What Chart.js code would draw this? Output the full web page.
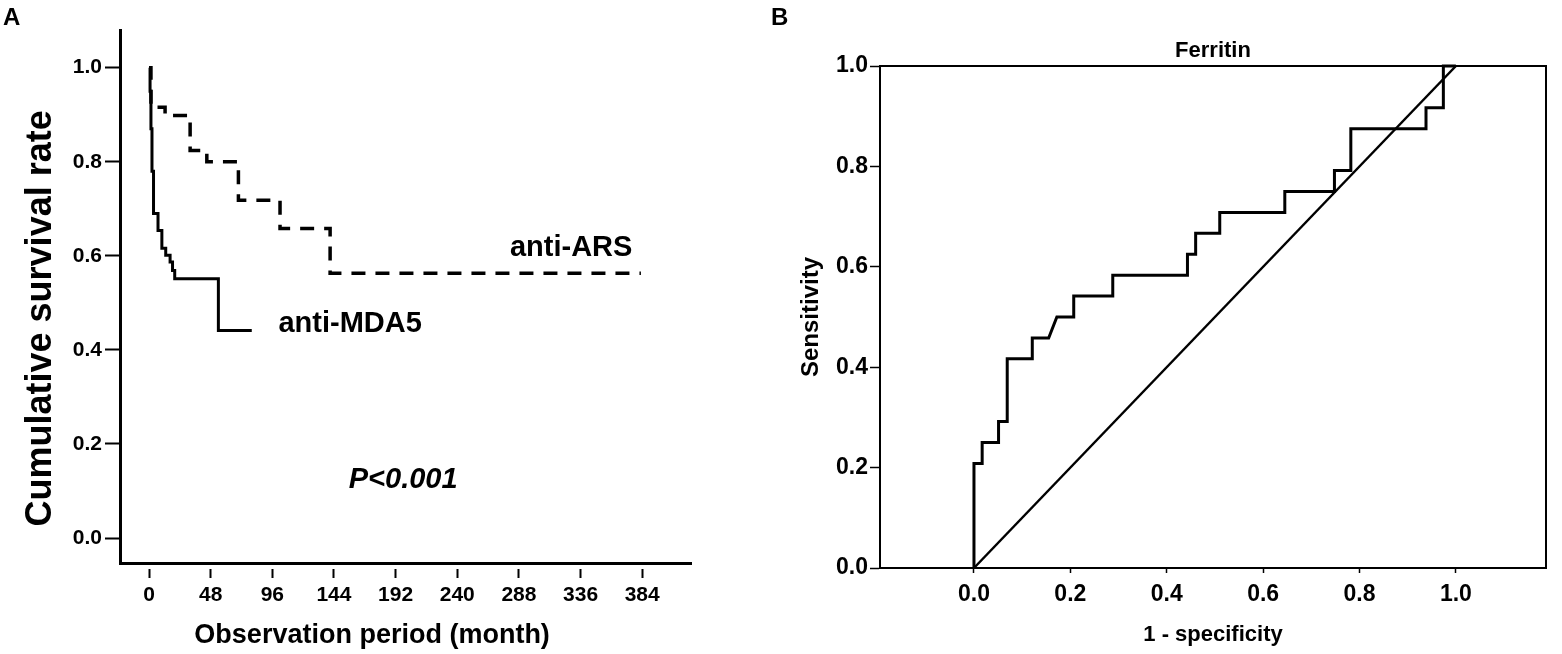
<!DOCTYPE html>
<html>
<head>
<meta charset="utf-8">
<script src="https://cdn.jsdelivr.net/npm/chart.js@4.4.1/dist/chart.umd.min.js"></script>
<style>
  body { margin: 0; background: #fff; width: 1562px; height: 654px; position: relative; overflow: hidden; font-family: 'Liberation Sans', Arial, sans-serif; }
  canvas { position: absolute; top: 0; }
  #chartA { left: 0; }
  #chartB { left: 760px; }
  .panel { position: absolute; font-weight: bold; font-size: 24px; color: #000; }
</style>
</head>
<body>
<canvas id="chartA" width="760" height="654"></canvas>
<canvas id="chartB" width="802" height="654"></canvas>
<div class="panel" style="left:3px;top:3px">A</div>
<div class="panel" style="left:771px;top:3px">B</div>
<script>
// Panel A: Kaplan-Meier curves
const arsMonths = [0, 1.5, 12.5, 32, 45, 69.6, 102, 141, 383];
const arsSurvival = [1.0, 0.916, 0.898, 0.824, 0.80, 0.718, 0.658, 0.563, 0.563];
const mda5Months = [0, 0.8, 1.5, 2.3, 3.5, 7, 10, 13, 16.4, 18.3, 20, 54, 80];
const mda5Survival = [1.0, 0.95, 0.87, 0.78, 0.69, 0.654, 0.616, 0.601, 0.587, 0.569, 0.551, 0.441, 0.441];
const monthTicks = [0, 48, 96, 144, 192, 240, 288, 336, 384];
const survivalTicks = [0, 0.2, 0.4, 0.6, 0.8, 1.0];

// Panel B: ROC curve for ferritin
const rocFpr = [0, 0, 0.017, 0.017, 0.051, 0.051, 0.069, 0.069, 0.121, 0.121, 0.155, 0.172, 0.207, 0.207, 0.288, 0.288,
  0.443, 0.443, 0.46, 0.46, 0.51, 0.51, 0.645, 0.645, 0.748, 0.748, 0.782, 0.782, 0.938, 0.938, 0.974, 0.974, 1.0];
const rocTpr = [0, 0.208, 0.208, 0.25, 0.25, 0.292, 0.292, 0.417, 0.417, 0.458, 0.458, 0.5, 0.5, 0.542, 0.542, 0.583,
  0.583, 0.625, 0.625, 0.667, 0.667, 0.708, 0.708, 0.75, 0.75, 0.792, 0.792, 0.875, 0.875, 0.917, 0.917, 1.0, 1.0];
const refFpr = [0, 1];
const refTpr = [0, 1];
const rateTicks = [0, 0.2, 0.4, 0.6, 0.8, 1.0];

Chart.defaults.font.family = "'Liberation Sans', Arial, sans-serif";
Chart.defaults.color = "#000";

const toPoints = (xs, ys) => xs.map((x, i) => ({ x: x, y: ys[i] }));
const fixedTicks = (values) => (scale) => {
    scale.ticks = values.map((v) => ({ value: v }));
};

// draws free text at data coordinates of the x / y scales
const textPlugin = {
    id: "texts",
    afterDraw(chart, args, opts) {
        const { ctx, scales } = chart;
        (opts.items || []).forEach((item) => {
            ctx.save();
            ctx.translate(scales.x.getPixelForValue(item.x), scales.y.getPixelForValue(item.y));
            if (item.rotate) {
                ctx.rotate(item.rotate);
            }
            ctx.font = item.font;
            ctx.fillStyle = "#000";
            ctx.textAlign = "center";
            ctx.textBaseline = "middle";
            ctx.fillText(item.text, 0, 0);
            ctx.restore();
        });
    }
};

new Chart(document.getElementById("chartA"), {
    type: "line",
    data: {
        datasets: [
            {
                label: "anti-ARS",
                data: toPoints(arsMonths, arsSurvival),
                stepped: "before",
                borderColor: "#000",
                borderWidth: 3.5,
                borderDash: [14, 10],
                pointRadius: 0,
                fill: false
            },
            {
                label: "anti-MDA5",
                data: toPoints(mda5Months, mda5Survival),
                stepped: "before",
                borderColor: "#000",
                borderWidth: 3,
                pointRadius: 0,
                fill: false
            }
        ]
    },
    options: {
        responsive: false,
        animation: false,
        layout: { padding: { top: 30, right: 69, left: 0, bottom: 0 } },
        plugins: {
            legend: { display: false },
            tooltip: { enabled: false },
            texts: {
                items: [
                    { text: "anti-ARS", x: 328.7, y: 0.616, font: "bold 29px 'Liberation Sans', Arial" },
                    { text: "anti-MDA5", x: 156.6, y: 0.455, font: "bold 29px 'Liberation Sans', Arial" },
                    { text: "P<0.001", x: 197.9, y: 0.123, font: "italic bold 29px 'Liberation Sans', Arial" },
                    { text: "Observation period (month)", x: 173.7, y: -0.208, font: "bold 27px 'Liberation Sans', Arial" },
                    { text: "Cumulative survival rate", x: -84.1, y: 0.467, rotate: -Math.PI / 2, font: "bold 36px 'Liberation Sans', Arial" }
                ]
            }
        },
        scales: {
            x: {
                type: "linear",
                min: -22.6,
                max: 422,
                afterBuildTicks: fixedTicks(monthTicks),
                afterFit: (scale) => { scale.height = 91; },
                ticks: {
                    padding: 5,
                    font: { size: 21, weight: "bold" },
                    maxRotation: 0,
                    callback: (value) => String(value)
                },
                grid: {
                    drawOnChartArea: false,
                    tickLength: 15,
                    tickWidth: 2,
                    tickColor: "#000",
                    tickBorderDash: [0, 4, 11, 40]
                },
                border: { color: "#000", width: 3 }
            },
            y: {
                type: "linear",
                min: -0.053,
                max: 1.08,
                afterBuildTicks: fixedTicks(survivalTicks),
                afterFit: (scale) => { scale.width = 120; },
                ticks: {
                    padding: 3,
                    font: { size: 21, weight: "bold" },
                    callback: (value) => value.toFixed(1)
                },
                grid: {
                    drawOnChartArea: false,
                    tickLength: 15,
                    tickWidth: 2,
                    tickColor: "#000"
                },
                border: { color: "#000", width: 3 }
            }
        }
    },
    plugins: [textPlugin]
});

new Chart(document.getElementById("chartB"), {
    type: "line",
    data: {
        datasets: [
            {
                label: "Ferritin",
                data: toPoints(rocFpr, rocTpr),
                borderColor: "#000",
                borderWidth: 3,
                pointRadius: 0,
                fill: false,
                clip: false
            },
            {
                label: "Reference line",
                data: toPoints(refFpr, refTpr),
                borderColor: "#000",
                borderWidth: 2.5,
                pointRadius: 0,
                fill: false,
                clip: false
            }
        ]
    },
    options: {
        responsive: false,
        animation: false,
        layout: { padding: { top: 66, right: 16, left: 0, bottom: 0 } },
        plugins: {
            legend: { display: false },
            tooltip: { enabled: false },
            texts: {
                items: [
                    { text: "Ferritin", x: 0.496, y: 1.03, font: "bold 22px 'Liberation Sans', Arial" }
                ]
            }
        },
        scales: {
            x: {
                type: "linear",
                min: -0.195,
                max: 1.187,
                afterBuildTicks: fixedTicks(rateTicks),
                afterFit: (scale) => { scale.height = 86; },
                ticks: {
                    padding: 8,
                    font: { size: 23, weight: "bold" },
                    maxRotation: 0,
                    callback: (value) => value.toFixed(1)
                },
                grid: {
                    drawOnChartArea: false,
                    tickLength: 5,
                    tickWidth: 1.5,
                    tickColor: "#000"
                },
                border: { color: "#000", width: 2 },
                title: {
                    display: true,
                    text: "1 - specificity",
                    font: { size: 22, weight: "bold" },
                    padding: { top: 0, bottom: 6 }
                }
            },
            y: {
                type: "linear",
                min: 0,
                max: 1,
                afterBuildTicks: fixedTicks(rateTicks),
                afterFit: (scale) => { scale.width = 120; },
                ticks: {
                    padding: 2,
                    font: { size: 23, weight: "bold" },
                    callback: (value) => value.toFixed(1)
                },
                grid: {
                    drawOnChartArea: false,
                    tickLength: 10,
                    tickWidth: 1.5,
                    tickColor: "#000"
                },
                border: { color: "#000", width: 2 },
                title: {
                    display: true,
                    text: "Sensitivity",
                    font: { size: 24, weight: "bold" },
                    padding: { top: 37, bottom: 0 }
                }
            },
            x2: {
                type: "linear",
                position: "top",
                min: -0.195,
                max: 1.187,
                afterFit: (scale) => { scale.height = 0; },
                ticks: { display: false },
                grid: { display: false },
                border: { color: "#000", width: 2 }
            },
            y2: {
                type: "linear",
                position: "right",
                min: 0,
                max: 1,
                afterFit: (scale) => { scale.width = 0; },
                ticks: { display: false },
                grid: { display: false },
                border: { color: "#000", width: 2 }
            }
        }
    },
    plugins: [textPlugin]
});
</script>
</body>
</html>
